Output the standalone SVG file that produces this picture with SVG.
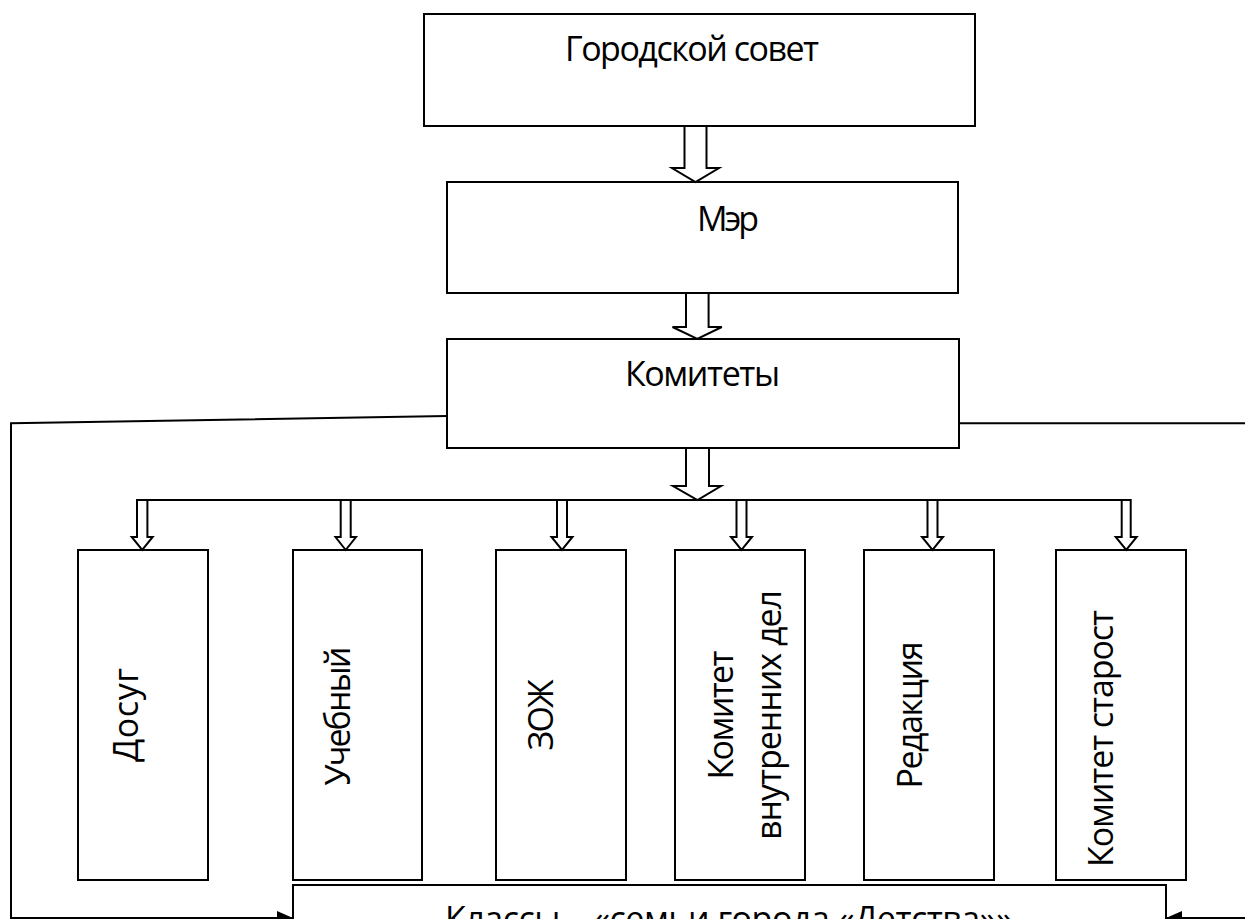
<svg xmlns="http://www.w3.org/2000/svg" width="1245" height="919" viewBox="0 0 1245 919">
  <defs>
    <style>
      .box { fill: #ffffff; stroke: #000000; stroke-width: 2; }
      .blk { fill: #ffffff; stroke: #000000; stroke-width: 2; stroke-linejoin: miter; }
      .ln { fill: none; stroke: #000000; stroke-width: 2; }
      .t { font-family: "Open Sans", "Liberation Sans", sans-serif; font-size: 34px; fill: #000000; }
    </style>
    <marker id="ah" viewBox="0 0 16 14" refX="16" refY="7" markerWidth="16" markerHeight="14" markerUnits="userSpaceOnUse" orient="auto">
      <path d="M0,0 L16,7 L0,14 z" fill="#000000"/>
    </marker>
  </defs>
  <rect x="0" y="0" width="1245" height="919" fill="#ffffff"/>

  <g id="n-gorsovet">
    <rect class="box" x="424" y="14" width="551" height="112"/>
    <text class="t" x="565" y="61" textLength="254">Городской совет</text>
  </g>
  <g id="n-mer">
    <rect class="box" x="447" y="182" width="511" height="111"/>
    <text class="t" x="697" y="231" textLength="62">Мэр</text>
  </g>
  <g id="n-komitety">
    <rect class="box" x="447" y="339" width="512" height="109"/>
    <text class="t" x="625" y="386" textLength="155">Комитеты</text>
  </g>
  <g id="n-klassy">
    <rect class="box" x="293" y="885" width="873" height="90"/>
    <text class="t" x="445" y="931" textLength="568">Классы – «семьи города «Детства»»</text>
  </g>

  <g id="n-dosug">
    <rect class="box" x="78" y="550" width="130" height="330"/>
    <text class="t" text-anchor="middle" transform="translate(138,715) rotate(-90)" textLength="94">Досуг</text>
  </g>
  <g id="n-uchebny">
    <rect class="box" x="293" y="550" width="129" height="330"/>
    <text class="t" text-anchor="middle" transform="translate(350,716) rotate(-90)" textLength="139">Учебный</text>
  </g>
  <g id="n-zozh">
    <rect class="box" x="496" y="550" width="130" height="330"/>
    <text class="t" text-anchor="middle" transform="translate(553,715) rotate(-90)" textLength="71">ЗОЖ</text>
  </g>
  <g id="n-kvd">
    <rect class="box" x="675" y="550" width="130" height="330"/>
    <text class="t" text-anchor="middle" transform="translate(733,715) rotate(-90)" textLength="129">Комитет</text>
    <text class="t" text-anchor="middle" transform="translate(781,715) rotate(-90)" textLength="250">внутренних дел</text>
  </g>
  <g id="n-redakcia">
    <rect class="box" x="864" y="550" width="130" height="330"/>
    <text class="t" text-anchor="middle" transform="translate(922,715) rotate(-90)" textLength="147">Редакция</text>
  </g>
  <g id="n-starost">
    <rect class="box" x="1056" y="550" width="130" height="330"/>
    <text class="t" text-anchor="middle" transform="translate(1113,738.5) rotate(-90)" textLength="257">Комитет старост</text>
  </g>

  <g id="connectors">
    <polygon class="blk" points="684.5,126 706.5,126 706.5,168 719,168 695.5,182 672,168 684.5,168"/>
    <polygon class="blk" points="686,293 708.6,293 708.6,327 721.8,327 697.3,339 672.5,327 686,327"/>
    <polygon class="blk" points="686,448 709,448 709,486 721,486 697.5,500 673,486 686,486"/>
    <line class="ln" x1="136.7" y1="500" x2="1130.7" y2="500"/>
    <polygon class="blk" points="137,500 147.4,500 147.4,537 152.7,537 142.2,550 131.7,537 137,537"/>
    <polygon class="blk" points="340.7,500 350.7,500 350.7,537 356,537 345.7,550 335.5,537 340.7,537"/>
    <polygon class="blk" points="557,500 567,500 567,537 572.5,537 562,550 551.5,537 557,537"/>
    <polygon class="blk" points="736.5,500 746.5,500 746.5,537 752,537 741.5,550 731,537 736.5,537"/>
    <polygon class="blk" points="927.5,500 937.5,500 937.5,537 943,537 932.5,550 922,537 927.5,537"/>
    <polygon class="blk" points="1121.7,500 1130.7,500 1130.7,537 1136.7,537 1126.2,550 1115.7,537 1121.7,537"/>
    <polyline class="ln" points="447,416 11,423.3 11,918 293,918" marker-end="url(#ah)"/>
    <polyline class="ln" points="959,423.3 1250,423.3 1250,918 1166,918" marker-end="url(#ah)"/>
  </g>
</svg>
